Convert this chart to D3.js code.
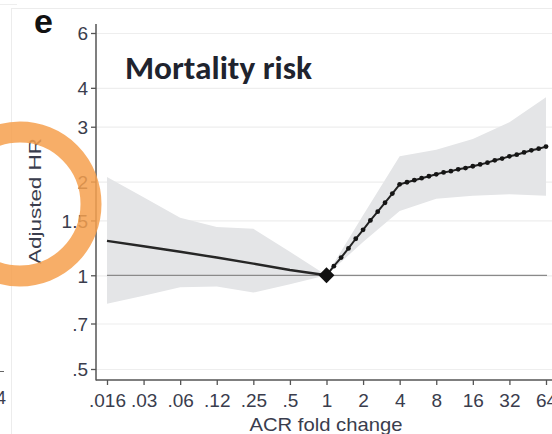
<!DOCTYPE html>
<html><head><meta charset="utf-8">
<script src="https://cdn.jsdelivr.net/npm/d3@7"></script>
<style>html,body{margin:0;padding:0;background:#fff;}svg{display:block;}</style>
</head><body>
<script>
// ---- data ----
const xTickFold = [1/64, 1/32, 1/16, 1/8, 1/4, 1/2, 1, 2, 4, 8, 16, 32, 64];
const xTickLabels = [".016", ".03", ".06", ".12", ".25", ".5", "1", "2", "4", "8", "16", "32", "64"];
const yTickValues = [0.5, 0.7, 1, 1.5, 2, 3, 4, 6];
const yTickLabels = [".5", ".7", "1", "1.5", "2", "3", "4", "6"];

// confidence band (log2 fold change, lower, upper)
const bandLog2 = [-6, -5, -4, -3, -2, -1, 0, 1, 2, 3, 4, 5, 6];
const bandLo   = [0.81, 0.86, 0.915, 0.92, 0.88, 0.935, 1, 1.28, 1.61, 1.76, 1.80, 1.82, 1.80];
const bandHi   = [2.07, 1.78, 1.53, 1.43, 1.41, 1.19, 1, 1.56, 2.41, 2.53, 2.74, 3.10, 3.73];

// estimate, ACR decrease side
const leftLog2 = [-6, -5, -4, -3, -2, -1, 0];
const leftHR   = [1.29, 1.24, 1.19, 1.14, 1.09, 1.04, 1.00];

// estimate, ACR increase side (marked points)
const rightLog2 = [0, 0.2, 0.4, 0.6, 0.8, 1.0, 1.2, 1.4, 1.6, 1.8, 2.0, 2.2, 2.4, 2.6, 2.8, 3.0,
                   3.2, 3.4, 3.6, 3.8, 4.0, 4.2, 4.4, 4.6, 4.8, 5.0, 5.2, 5.4, 5.6, 5.8, 6.0];
const rightHR   = [1.00, 1.07, 1.14, 1.22, 1.31, 1.40, 1.50, 1.60, 1.71, 1.83, 1.96, 1.99, 2.02, 2.05, 2.08, 2.11,
                   2.14, 2.16, 2.19, 2.21, 2.24, 2.27, 2.30, 2.34, 2.37, 2.41, 2.44, 2.48, 2.52, 2.55, 2.59];

const refPoint = {fold: 1, hr: 1};

// ---- layout ----
const W = 552, H = 434;
const axisX = 96, axisY = 380;
const svg = d3.select("body").append("svg").attr("width", W).attr("height", H);

const x = d3.scaleLog().base(2).domain([1/64, 64]).range([107, 546]);
const y = d3.scaleLog().domain([0.5, 6]).range([369, 33]);
const f = e => Math.pow(2, e);

// faint neighbouring frame
svg.append("line").attr("x1", 11).attr("x2", W).attr("y1", 8.5).attr("y2", 8.5).attr("stroke", "#ececec");
svg.append("line").attr("x1", 11.5).attr("x2", 11.5).attr("y1", 8).attr("y2", H).attr("stroke", "#ececec");
svg.append("line").attr("x1", 0).attr("x2", 17).attr("y1", 4.5).attr("y2", 4.5).attr("stroke", "#eeeeee");
svg.append("text").attr("x", -4).attr("y", 404).attr("font-family", "Liberation Sans, Arial, sans-serif")
  .attr("font-size", 18).attr("fill", "#3a3d4d").text("4");
svg.append("line").attr("x1", 0).attr("x2", 4).attr("y1", 371.5).attr("y2", 371.5).attr("stroke", "#666");

// gridlines
svg.append("g").selectAll("line").data(yTickValues).join("line")
  .attr("x1", axisX).attr("x2", W).attr("y1", d => y(d) + 0.5).attr("y2", d => y(d) + 0.5)
  .attr("stroke", "#eeeeee").attr("stroke-width", 1.2);

// band
const band = bandLog2.map((e, i) => ({fold: f(e), lo: bandLo[i], hi: bandHi[i]}));
svg.append("path").datum(band)
  .attr("d", d3.area().x(d => x(d.fold)).y0(d => y(d.lo)).y1(d => y(d.hi)))
  .attr("fill", "#e4e5e7");

// reference line HR = 1
svg.append("line").attr("x1", x(1/64)).attr("x2", x(64) + 1).attr("y1", y(1)).attr("y2", y(1))
  .attr("stroke", "#8a8a8a").attr("stroke-width", 1.3);

// left estimate
const left = leftLog2.map((e, i) => ({fold: f(e), hr: leftHR[i]}));
svg.append("path").datum(left)
  .attr("d", d3.line().x(d => x(d.fold)).y(d => y(d.hr)))
  .attr("fill", "none").attr("stroke", "#262626").attr("stroke-width", 2.4);

// right estimate
const right = rightLog2.map((e, i) => ({fold: f(e), hr: rightHR[i]}));
svg.append("path").datum(right)
  .attr("d", d3.line().x(d => x(d.fold)).y(d => y(d.hr)))
  .attr("fill", "none").attr("stroke", "#222").attr("stroke-width", 2);
svg.append("g").selectAll("circle").data(right.slice(1)).join("circle")
  .attr("cx", d => x(d.fold)).attr("cy", d => y(d.hr)).attr("r", 2.4).attr("fill", "#151515");

// reference diamond
svg.append("path")
  .attr("d", d3.symbol().type(d3.symbolSquare).size(125)())
  .attr("transform", `translate(${x(refPoint.fold)},${y(refPoint.hr)}) rotate(45)`)
  .attr("fill", "#111");

// axes
const tickFont = "Liberation Sans, Arial, sans-serif";
const yAxis = svg.append("g").attr("transform", `translate(${axisX},0)`)
  .call(d3.axisLeft(y).tickValues(yTickValues).tickFormat((d, i) => yTickLabels[i]).tickSize(5).tickPadding(3));
const xAxis = svg.append("g").attr("transform", `translate(0,${axisY})`)
  .call(d3.axisBottom(x).tickValues(xTickFold).tickFormat((d, i) => xTickLabels[i]).tickSize(5).tickPadding(9));
[yAxis, xAxis].forEach(g => {
  g.select(".domain").remove();
  g.selectAll(".tick line").attr("stroke", "#555").attr("stroke-width", 1.3);
  g.selectAll(".tick text").attr("font-family", tickFont).attr("font-size", 19).attr("fill", "#3a3d4d");
});
yAxis.selectAll(".tick text").attr("dy", "0.36em");
xAxis.selectAll(".tick text").attr("dy", "0.71em");
// axis lines
svg.append("line").attr("x1", axisX).attr("x2", axisX).attr("y1", 24).attr("y2", axisY + 0.5)
  .attr("stroke", "#555").attr("stroke-width", 1.5);
svg.append("line").attr("x1", axisX).attr("x2", W).attr("y1", axisY).attr("y2", axisY)
  .attr("stroke", "#555").attr("stroke-width", 1.5);

// axis titles
svg.append("text").attr("transform", "translate(41,201) rotate(-90)")
  .attr("text-anchor", "middle").attr("font-family", tickFont).attr("font-size", 17)
  .attr("textLength", 126).attr("lengthAdjust", "spacingAndGlyphs")
  .attr("fill", "#3a3d4d").text("Adjusted HR");
svg.append("text").attr("x", 326).attr("y", 431)
  .attr("text-anchor", "middle").attr("font-family", tickFont).attr("font-size", 19)
  .attr("textLength", 153).attr("lengthAdjust", "spacingAndGlyphs")
  .attr("fill", "#3a3d4d").text("ACR fold change");

// panel title
svg.append("text").attr("x", 125).attr("y", 79)
  .attr("font-family", "Carlito, Lato, 'Open Sans', sans-serif").attr("font-weight", "bold").attr("font-size", 32)
  .attr("textLength", 187).attr("lengthAdjust", "spacingAndGlyphs")
  .attr("fill", "#20232e").text("Mortality risk");

// panel letter
svg.append("text").attr("x", 34).attr("y", 33)
  .attr("font-family", "Liberation Sans, Arial, sans-serif").attr("font-weight", "bold").attr("font-size", 34)
  .attr("fill", "#111").text("e");

// orange highlight ring
svg.append("ellipse").attr("cx", 20).attr("cy", 204).attr("rx", 71).attr("ry", 72)
  .attr("fill", "none").attr("stroke", "#f6a04e").attr("stroke-opacity", 0.85).attr("stroke-width", 21);
</script>
</body></html>
